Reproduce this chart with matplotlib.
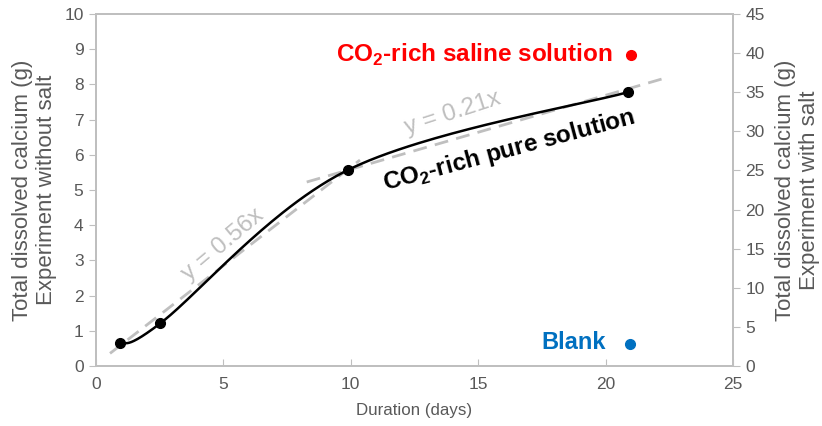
import numpy as np
import matplotlib
matplotlib.use("Agg")
import matplotlib.pyplot as plt

plt.rcParams['font.family'] = ['Liberation Sans', 'DejaVu Sans']
plt.rcParams['mathtext.fontset'] = 'custom'
plt.rcParams['mathtext.rm'] = 'Liberation Sans'
plt.rcParams['mathtext.bf'] = 'Liberation Sans:bold'

# Data
days_pure = [0.94, 2.52, 9.89, 20.88]
calcium_pure = [0.645, 1.21, 5.57, 7.78]          # left axis (g), without salt
days_saline = [21.0]
calcium_saline = [39.8]                            # right axis (g), with salt
days_blank = [20.96]
calcium_blank = [2.8]                              # right axis (g)

trend1_x = [0.55, 10.36]
trend1_slope, trend1_icpt = 0.56, 0.05
trend2_x = [8.27, 22.33]
trend2_slope, trend2_icpt = 0.21, 3.49

xticks = [0, 5, 10, 15, 20, 25]
left_ticks = list(range(0, 11))
right_ticks = list(range(0, 46, 5))

GRAY = '#BFBFBF'
TXT = '#595959'

fig = plt.figure(figsize=(8.22, 4.26), dpi=100)
ax = fig.add_axes([96/822, 1-366/426, (733-96)/822, (366-14)/426])
ax.set_xlim(0, 25)
ax.set_ylim(0, 10)
ax2 = ax.twinx()
ax2.set_ylim(0, 45)

for a in (ax, ax2):
    for s in a.spines.values():
        s.set_color(GRAY)
        s.set_linewidth(1.3)

ax.set_xticks(xticks)
ax.set_yticks(left_ticks)
ax2.set_yticks(right_ticks)
ax.tick_params(axis='x', direction='in', length=5, color=GRAY, labelcolor=TXT, labelsize=12.5, pad=8)
ax.tick_params(axis='y', direction='out', length=5, color=GRAY, labelcolor=TXT, labelsize=12.5, pad=4)
ax2.tick_params(axis='y', direction='out', length=5, color=GRAY, labelcolor=TXT, labelsize=12.5, pad=4)

ax.set_xlabel('Duration (days)', color=TXT, fontsize=12.2, labelpad=8)
ax.set_ylabel('Total dissolved calcium (g)\nExperiment without salt', color=TXT, fontsize=16,
              linespacing=1.2, labelpad=5)
ax2.set_ylabel('Total dissolved calcium (g)\nExperiment with salt', color=TXT, fontsize=16,
               linespacing=1.2, labelpad=7)

# Trend lines
tx1 = np.array(trend1_x)
ax.plot(tx1, trend1_slope*tx1 + trend1_icpt, color=GRAY, lw=2, dashes=(5, 3), zorder=2)
tx2 = np.array(trend2_x)
ax.plot(tx2, trend2_slope*tx2 + trend2_icpt, color=GRAY, lw=2, dashes=(5, 3), zorder=2)

# Smoothed curve (Catmull-Rom/Bezier like Excel) computed in display space
fig.canvas.draw()
pts = ax.transData.transform(np.column_stack([days_pure, calcium_pure]))
P = np.vstack([pts[0], pts, pts[-1]])
curve = []
t = np.linspace(0, 1, 60)[:, None]
for i in range(1, len(P) - 2):
    p0, p1, p2, p3 = P[i-1], P[i], P[i+1], P[i+2]
    c1 = p1 + (p2 - p0) / 6
    c2 = p2 - (p3 - p1) / 6
    seg = (1-t)**3*p1 + 3*(1-t)**2*t*c1 + 3*(1-t)*t**2*c2 + t**3*p2
    curve.append(seg)
curve = ax.transData.inverted().transform(np.vstack(curve))
ax.plot(curve[:, 0], curve[:, 1], color='black', lw=1.8, zorder=3)
ax.plot(days_pure, calcium_pure, 'o', color='black', ms=7, zorder=4)

ax2.plot(days_saline, calcium_saline, 'o', color='#FF0000', ms=7, zorder=4)
ax2.plot(days_blank, calcium_blank, 'o', color='#0070C0', ms=7, zorder=4)

# Annotations
ax.text(9.42, 8.84, r'CO$_\mathbf{2}$-rich saline solution', color='#FF0000', fontsize=17.5,
        fontweight='bold', ha='left', va='center')
ax.text(17.49, 0.68, 'Blank', color='#0070C0', fontsize=17, fontweight='bold',
        ha='left', va='center')
ax.text(16.2, 6.12, r'CO$_\mathbf{2}$-rich pure solution', color='black', fontsize=17.5,
        fontweight='bold', ha='center', va='center', rotation=15, rotation_mode='anchor')
ax.text(14.0, 7.19, 'y = 0.21x', color=GRAY, fontsize=17.5, ha='center', va='center',
        rotation=18, rotation_mode='anchor')
ax.text(5.0, 3.44, 'y = 0.56x', color=GRAY, fontsize=17.5, ha='center', va='center',
        rotation=40, rotation_mode='anchor')

fig.savefig('out.png', dpi=100)
